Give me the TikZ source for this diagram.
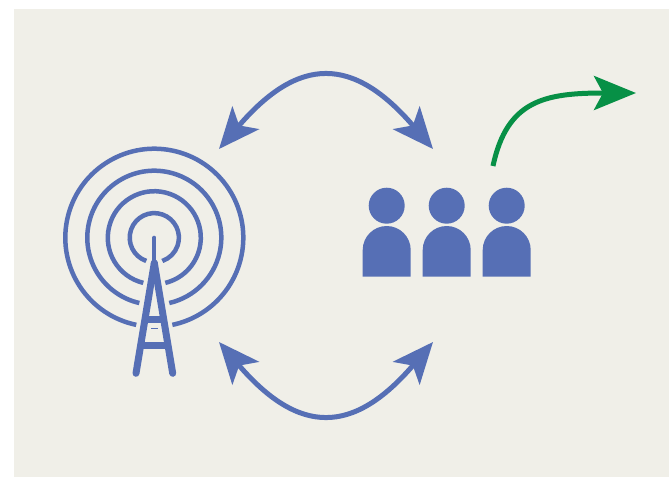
\documentclass[tikz,border=0pt]{standalone}
\usetikzlibrary{arrows.meta}
\definecolor{paper}{HTML}{F0EFE8}
\definecolor{iconblue}{HTML}{566FB5}
\definecolor{arrowgreen}{HTML}{079046}
\tikzset{
  linkarrow/.style={draw=iconblue,line width=5pt,{Stealth[length=41pt,width=35pt,inset=10pt,fill=iconblue]}-{Stealth[length=41pt,width=35pt,inset=10pt,fill=iconblue]}},
  exitarrow/.style={draw=arrowgreen,line width=5pt,-{Stealth[length=42pt,width=34pt,inset=9pt,fill=arrowgreen]}},
  ring/.style={draw=iconblue,line width=4.5pt},
  towerleg/.style={draw=iconblue,line width=7pt,line cap=round},
  towerbar/.style={draw=iconblue,line width=7pt},
  personfill/.style={fill=iconblue,draw=none}
}
\begin{document}
\begin{tikzpicture}[x=1pt,y=-1pt]
\useasboundingbox (0,0) rectangle (669,477);
\fill[paper] (14,9) rectangle (669,477);
% named ends
\coordinate (tl) at (219,149);
\coordinate (tr) at (433,149);
\coordinate (bl) at (219,342);
\coordinate (br) at (433,342);
\coordinate (gs) at (493,166);
\coordinate (ge) at (636,93);
\coordinate (c) at (154.3,237.7);
% arrows
\draw[linkarrow] (tl) .. controls (298.8,55.7) and (353.2,55.7) .. (tr);
\draw[linkarrow] (bl) .. controls (298.8,435.3) and (353.2,435.3) .. (br);
\draw[exitarrow] (gs) .. controls (507,100) and (545,93) .. (ge);
% rings
\foreach \r/\a in {89/11.7,67/12.9,46.5/13.7,24.6/19}{
  \draw[ring] ({154.3+\r*cos(90+\a)},{237.7+\r*sin(90+\a)}) arc[start angle=90+\a,end angle=450-\a,x radius=\r,y radius=\r];
}
% tower
\draw[draw=iconblue,line width=4pt,line cap=round] (c) -- (154.3,265);
\draw[towerleg] (154.3,263) -- (136,373.3);
\draw[towerleg] (154.3,263) -- (172.7,373.3);
\draw[towerbar] (146,319.5) -- (162.6,319.5);
\draw[towerbar] (142,345.5) -- (166.6,345.5);
\draw[draw=iconblue,line width=1.5pt] (151,328.3) -- (157.7,328.3);
% people
\foreach \x in {386.7,446.7,506.7}{
  \fill[personfill] (\x,205.7) circle[radius=18];
  \fill[personfill] ({\x-24},276.7) -- ({\x-24},250) arc[start angle=180,end angle=360,x radius=24,y radius=24] -- ({\x+24},276.7) -- cycle;
}
\end{tikzpicture}
\end{document}
